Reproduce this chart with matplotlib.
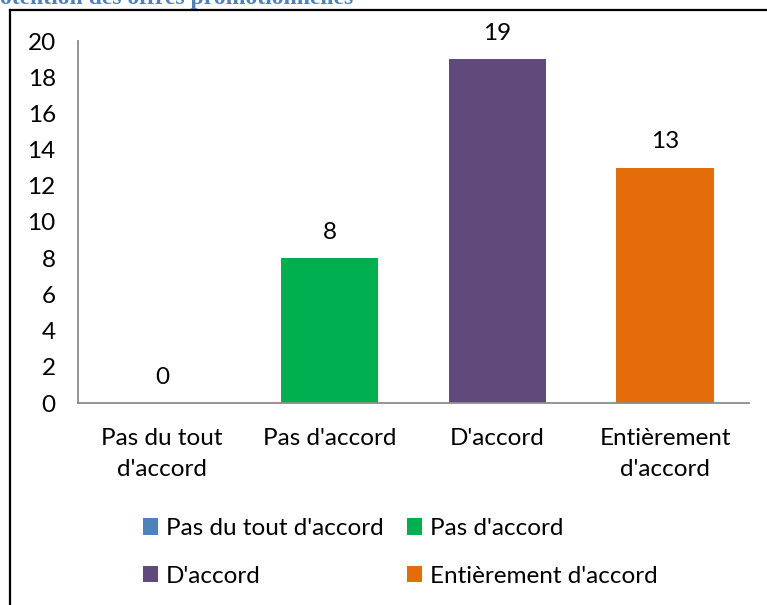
import matplotlib
matplotlib.use("Agg")
import matplotlib.pyplot as plt
from matplotlib.patches import Patch
from matplotlib.lines import Line2D

# --- data ---
categories = ["Pas du tout\nd'accord", "Pas d'accord", "D'accord", "Entièrement\nd'accord"]
legend_labels = ["Pas du tout d'accord", "Pas d'accord", "D'accord", "Entièrement d'accord"]
values = [0, 8, 19, 13]
colors = ["#4F81BD", "#00B050", "#604A7B", "#E46C0A"]
yticks = list(range(0, 21, 2))
title_fragment = "otention des offres promotionnelles"

W, H = 767, 605
FONT = "Lato"
FS = 17.5

fig = plt.figure(figsize=(W / 100, H / 100), dpi=100)
ax = fig.add_axes([78 / W, 1 - 403 / H, (749 - 78) / W, (403 - 41) / H])

xs = range(len(values))
bars = ax.bar(xs, values, width=0.58, color=colors, zorder=2)
for x, v in zip(xs, values):
    ax.annotate(str(v), (x, v), textcoords="offset points", xytext=(0, 11),
                ha="center", va="bottom", fontsize=FS, family=FONT)

ax.set_xlim(-0.5, len(values) - 0.5)
ax.set_ylim(0, 20)
ax.set_yticks(yticks)
ax.set_yticklabels([str(t) for t in yticks], fontsize=FS, family=FONT)
ax.set_xticks(list(xs))
ax.set_xticklabels(categories, fontsize=FS, family=FONT, linespacing=1.6)
ax.tick_params(axis="both", length=0)
ax.tick_params(axis="x", pad=18)
ax.tick_params(axis="y", pad=16)
for s in ["top", "right"]:
    ax.spines[s].set_visible(False)
for s in ["left", "bottom"]:
    ax.spines[s].set_color("#8C8C8C")
    ax.spines[s].set_linewidth(1.3)

# legend, row-major order: blue, green / purple, orange
order = [0, 2, 1, 3]
handles = [Patch(facecolor=colors[i], label=legend_labels[i]) for i in order]
fig.legend(handles=handles, ncol=2, loc="upper left",
           bbox_to_anchor=(143 / W, 1 - 518 / H), frameon=False,
           prop={"family": FONT, "size": FS}, handlelength=0.62,
           handleheight=0.66, handletextpad=0.33, columnspacing=0.95,
           labelspacing=1.1, borderpad=0, borderaxespad=0)

# document frame around the chart
fig.add_artist(Line2D([9.5 / W, 9.5 / W], [0, 1 - 10 / H], color="black", lw=1.6,
                      transform=fig.transFigure))
fig.add_artist(Line2D([9.5 / W, 1], [1 - 10 / H, 1 - 10 / H], color="black", lw=1.6,
                      transform=fig.transFigure))

# cut-off caption above the frame
fig.text(0, 1 - 4 / H, title_fragment, ha="left", va="baseline",
         fontsize=17, fontweight="bold", family="Liberation Serif", color="#4F81BD")

fig.savefig("out.png", dpi=100)
